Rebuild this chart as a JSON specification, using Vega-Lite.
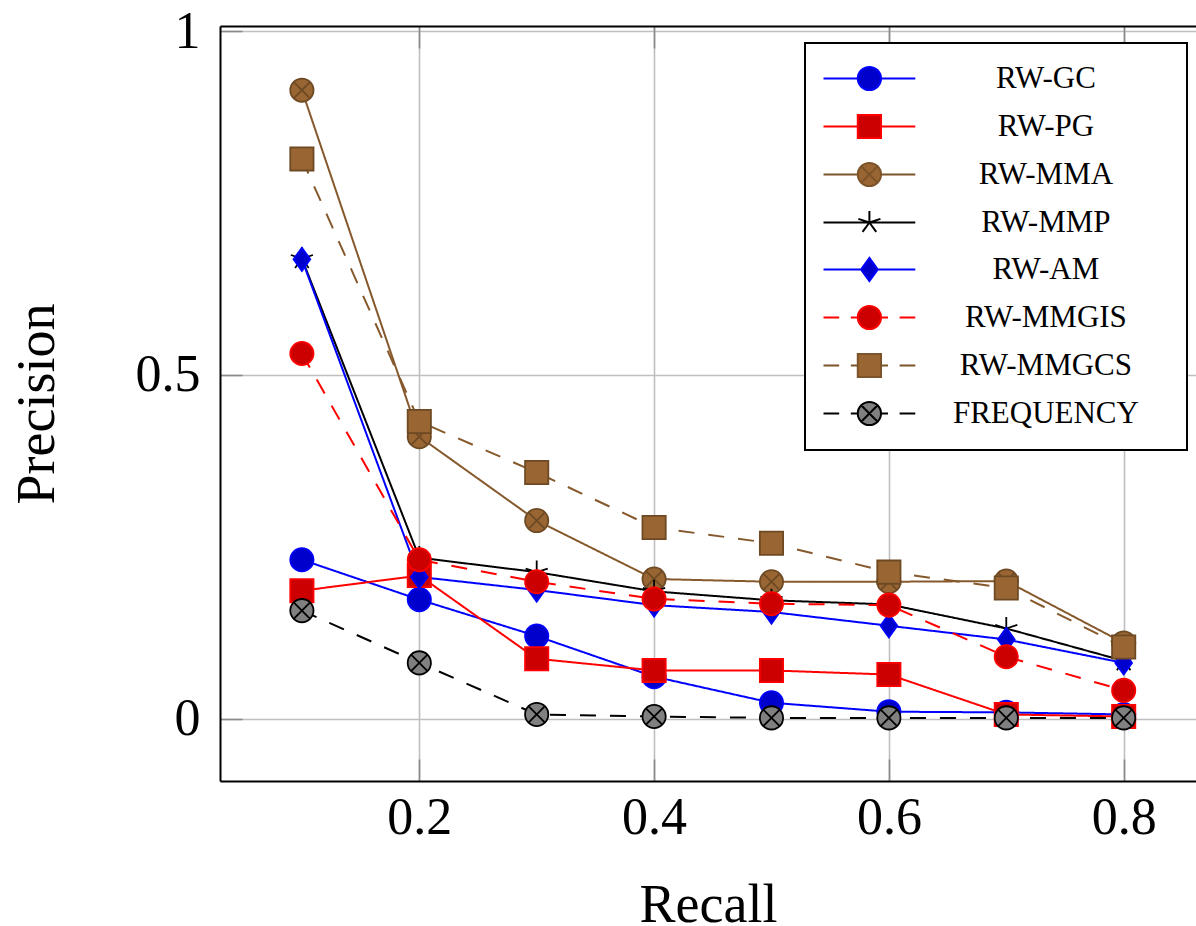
{
  "$schema": "https://vega.github.io/schema/vega-lite/v6.json",
  "width": 976,
  "height": 755,
  "autosize": {"type": "none"},
  "padding": {"left": 220, "top": 26, "right": 0, "bottom": 145},
  "background": "white",
  "config": {
    "view": {"stroke": null},
    "font": "Liberation Serif",
    "axis": {
      "labelFont": "Liberation Serif",
      "labelFontSize": 52,
      "labelColor": "black",
      "titleFont": "Liberation Serif",
      "titleFontSize": 54,
      "titleFontWeight": "normal",
      "titleColor": "black",
      "domainColor": "black",
      "domainWidth": 2,
      "gridColor": "#bfbfbf",
      "gridWidth": 1.6,
      "tickColor": "#8a8a8a",
      "tickWidth": 1.6,
      "tickSize": -22
    },
    "legend": {
      "orient": "none",
      "legendX": 585,
      "legendY": 17,
      "padding": 20,
      "strokeColor": "black",
      "strokeWidth": 2,
      "fillColor": "white",
      "cornerRadius": 0,
      "labelFont": "Liberation Serif",
      "labelFontSize": 31,
      "labelColor": "black",
      "labelAlign": "center",
      "labelOffset": 161,
      "labelLimit": 400,
      "symbolSize": 540,
      "symbolStrokeWidth": 2,
      "symbolOffset": 28.9,
      "symbolOpacity": 1,
      "rowPadding": 15
    }
  },
  "data": {
    "values": [
      {"m": "RW-GC", "Recall": 0.1, "Precision": 0.231},
      {"m": "RW-GC", "Recall": 0.2, "Precision": 0.173},
      {"m": "RW-GC", "Recall": 0.3, "Precision": 0.120},
      {"m": "RW-GC", "Recall": 0.4, "Precision": 0.061},
      {"m": "RW-GC", "Recall": 0.5, "Precision": 0.023},
      {"m": "RW-GC", "Recall": 0.6, "Precision": 0.010},
      {"m": "RW-GC", "Recall": 0.7, "Precision": 0.009},
      {"m": "RW-GC", "Recall": 0.8, "Precision": 0.006},
      {"m": "RW-PG", "Recall": 0.1, "Precision": 0.186},
      {"m": "RW-PG", "Recall": 0.2, "Precision": 0.208},
      {"m": "RW-PG", "Recall": 0.3, "Precision": 0.087},
      {"m": "RW-PG", "Recall": 0.4, "Precision": 0.070},
      {"m": "RW-PG", "Recall": 0.5, "Precision": 0.070},
      {"m": "RW-PG", "Recall": 0.6, "Precision": 0.064},
      {"m": "RW-PG", "Recall": 0.7, "Precision": 0.006},
      {"m": "RW-PG", "Recall": 0.8, "Precision": 0.003},
      {"m": "RW-MMA", "Recall": 0.1, "Precision": 0.914},
      {"m": "RW-MMA", "Recall": 0.2, "Precision": 0.410},
      {"m": "RW-MMA", "Recall": 0.3, "Precision": 0.288},
      {"m": "RW-MMA", "Recall": 0.4, "Precision": 0.203},
      {"m": "RW-MMA", "Recall": 0.5, "Precision": 0.199},
      {"m": "RW-MMA", "Recall": 0.6, "Precision": 0.199},
      {"m": "RW-MMA", "Recall": 0.7, "Precision": 0.200},
      {"m": "RW-MMA", "Recall": 0.8, "Precision": 0.110},
      {"m": "RW-MMP", "Recall": 0.1, "Precision": 0.669},
      {"m": "RW-MMP", "Recall": 0.2, "Precision": 0.234},
      {"m": "RW-MMP", "Recall": 0.3, "Precision": 0.213},
      {"m": "RW-MMP", "Recall": 0.4, "Precision": 0.185},
      {"m": "RW-MMP", "Recall": 0.5, "Precision": 0.172},
      {"m": "RW-MMP", "Recall": 0.6, "Precision": 0.166},
      {"m": "RW-MMP", "Recall": 0.7, "Precision": 0.131},
      {"m": "RW-MMP", "Recall": 0.8, "Precision": 0.084},
      {"m": "RW-AM", "Recall": 0.1, "Precision": 0.668},
      {"m": "RW-AM", "Recall": 0.2, "Precision": 0.206},
      {"m": "RW-AM", "Recall": 0.3, "Precision": 0.187},
      {"m": "RW-AM", "Recall": 0.4, "Precision": 0.165},
      {"m": "RW-AM", "Recall": 0.5, "Precision": 0.155},
      {"m": "RW-AM", "Recall": 0.6, "Precision": 0.135},
      {"m": "RW-AM", "Recall": 0.7, "Precision": 0.115},
      {"m": "RW-AM", "Recall": 0.8, "Precision": 0.081},
      {"m": "RW-MMGIS", "Recall": 0.1, "Precision": 0.531},
      {"m": "RW-MMGIS", "Recall": 0.2, "Precision": 0.231},
      {"m": "RW-MMGIS", "Recall": 0.3, "Precision": 0.199},
      {"m": "RW-MMGIS", "Recall": 0.4, "Precision": 0.174},
      {"m": "RW-MMGIS", "Recall": 0.5, "Precision": 0.167},
      {"m": "RW-MMGIS", "Recall": 0.6, "Precision": 0.165},
      {"m": "RW-MMGIS", "Recall": 0.7, "Precision": 0.090},
      {"m": "RW-MMGIS", "Recall": 0.8, "Precision": 0.041},
      {"m": "RW-MMGCS", "Recall": 0.1, "Precision": 0.814},
      {"m": "RW-MMGCS", "Recall": 0.2, "Precision": 0.432},
      {"m": "RW-MMGCS", "Recall": 0.3, "Precision": 0.358},
      {"m": "RW-MMGCS", "Recall": 0.4, "Precision": 0.278},
      {"m": "RW-MMGCS", "Recall": 0.5, "Precision": 0.255},
      {"m": "RW-MMGCS", "Recall": 0.6, "Precision": 0.213},
      {"m": "RW-MMGCS", "Recall": 0.7, "Precision": 0.190},
      {"m": "RW-MMGCS", "Recall": 0.8, "Precision": 0.104},
      {"m": "FREQUENCY", "Recall": 0.1, "Precision": 0.157},
      {"m": "FREQUENCY", "Recall": 0.2, "Precision": 0.081},
      {"m": "FREQUENCY", "Recall": 0.3, "Precision": 0.006},
      {"m": "FREQUENCY", "Recall": 0.4, "Precision": 0.003},
      {"m": "FREQUENCY", "Recall": 0.5, "Precision": 0.001},
      {"m": "FREQUENCY", "Recall": 0.6, "Precision": 0.001},
      {"m": "FREQUENCY", "Recall": 0.7, "Precision": 0.001},
      {"m": "FREQUENCY", "Recall": 0.8, "Precision": 0.001}
    ]
  },
  "resolve": {
    "scale": {"shape": "independent", "fill": "independent", "stroke": "independent"},
    "axis": {"x": "independent"}
  },
  "layer": [
    {
      "mark": {"type": "line", "strokeWidth": 2},
      "encoding": {
        "x": {
          "field": "Recall", "type": "quantitative",
          "scale": {"domain": [0.03024, 0.8616], "nice": false, "zero": false},
          "axis": {"orient": "bottom", "values": [0.2, 0.4, 0.6, 0.8], "format": "~g", "grid": true, "labelPadding": 33, "titlePadding": 35}
        },
        "y": {
          "field": "Precision", "type": "quantitative",
          "scale": {"domain": [-0.0908, 1.0073], "nice": false, "zero": false},
          "axis": {"values": [0, 0.5, 1], "format": "~g", "grid": true, "labelPadding": 42, "titlePadding": 71}
        },
        "color": {
          "field": "m", "type": "nominal", "legend": null,
          "scale": {
            "domain": ["RW-GC", "RW-PG", "RW-MMA", "RW-MMP", "RW-AM", "RW-MMGIS", "RW-MMGCS", "FREQUENCY"],
            "range": ["#0000ff", "#ff0000", "#86592d", "#000000", "#0000ff", "#ff0000", "#86592d", "#000000"]
          }
        },
        "strokeDash": {
          "field": "m", "type": "nominal", "legend": null,
          "scale": {
            "domain": ["RW-GC", "RW-PG", "RW-MMA", "RW-MMP", "RW-AM", "RW-MMGIS", "RW-MMGCS", "FREQUENCY"],
            "range": [[1, 0], [1, 0], [1, 0], [1, 0], [1, 0], [16, 14], [16, 14], [16, 14]]
          }
        }
      }
    },
    {
      "mark": {"type": "point", "filled": true, "opacity": 1, "size": 540, "strokeWidth": 1.8},
      "encoding": {
        "x": {
          "field": "Recall", "type": "quantitative",
          "axis": {"orient": "top", "labels": false, "grid": false, "title": null, "values": [0.2, 0.4, 0.6, 0.8], "domain": true}
        },
        "y": {"field": "Precision", "type": "quantitative"},
        "fill": {
          "field": "m", "type": "nominal", "legend": null,
          "scale": {
            "domain": ["RW-GC", "RW-PG", "RW-MMA", "RW-MMP", "RW-AM", "RW-MMGIS", "RW-MMGCS", "FREQUENCY"],
            "range": ["#0000cc", "#cc0000", "#996633", "#000000", "#0000cc", "#cc0000", "#996633", "#808080"]
          }
        },
        "stroke": {
          "field": "m", "type": "nominal", "legend": null,
          "scale": {
            "domain": ["RW-GC", "RW-PG", "RW-MMA", "RW-MMP", "RW-AM", "RW-MMGIS", "RW-MMGCS", "FREQUENCY"],
            "range": ["#0000ff", "#ff0000", "#6e4a24", "#000000", "#0000ff", "#ff0000", "#6e4a24", "#000000"]
          }
        },
        "shape": {
          "field": "m", "type": "nominal", "legend": null,
          "scale": {
            "domain": ["RW-GC", "RW-PG", "RW-MMA", "RW-MMP", "RW-AM", "RW-MMGIS", "RW-MMGCS", "FREQUENCY"],
            "range": [
              "M1,0A1,1,0,1,1,-1,0A1,1,0,1,1,1,0Z",
              "M-1,-1L1,-1L1,1L-1,1Z",
              "M1,0A1,1,0,1,1,-1,0A1,1,0,1,1,1,0ZM-0.707,-0.707L0.707,0.707M-0.707,0.707L0.707,-0.707",
              "M0,0L0,-1M0,0L-0.951,-0.309M0,0L-0.588,0.809M0,0L0.588,0.809M0,0L0.951,-0.309",
              "M0,-1L0.72,0L0,1L-0.72,0Z",
              "M1,0A1,1,0,1,1,-1,0A1,1,0,1,1,1,0Z",
              "M-1,-1L1,-1L1,1L-1,1Z",
              "M1,0A1,1,0,1,1,-1,0A1,1,0,1,1,1,0ZM-0.707,-0.707L0.707,0.707M-0.707,0.707L0.707,-0.707"
            ]
          }
        }
      }
    },
    {
      "transform": [{"filter": "datum.Recall < 0"}],
      "mark": {"type": "point", "filled": true, "opacity": 1, "size": 540, "strokeWidth": 2},
      "encoding": {
        "x": {"field": "Recall", "type": "quantitative", "axis": null},
        "y": {"field": "Precision", "type": "quantitative"},
        "fill": {
          "field": "m", "type": "nominal", "legend": {"title": null},
          "scale": {
            "domain": ["RW-GC", "RW-PG", "RW-MMA", "RW-MMP", "RW-AM", "RW-MMGIS", "RW-MMGCS", "FREQUENCY"],
            "range": ["#0000cc", "#cc0000", "#996633", "#000000", "#0000cc", "#cc0000", "#996633", "#808080"]
          }
        },
        "stroke": {
          "field": "m", "type": "nominal", "legend": {"title": null},
          "scale": {
            "domain": ["RW-GC", "RW-PG", "RW-MMA", "RW-MMP", "RW-AM", "RW-MMGIS", "RW-MMGCS", "FREQUENCY"],
            "range": ["#0000ff", "#ff0000", "#7d5329", "#000000", "#0000ff", "#ff0000", "#7d5329", "#000000"]
          }
        },
        "shape": {
          "field": "m", "type": "nominal", "legend": {"title": null},
          "scale": {
            "domain": ["RW-GC", "RW-PG", "RW-MMA", "RW-MMP", "RW-AM", "RW-MMGIS", "RW-MMGCS", "FREQUENCY"],
            "range": [
              "M-3.95,0L-1,0M1,0L3.95,0M1,0A1,1,0,1,1,-1,0A1,1,0,1,1,1,0ZM25.2,0L25.2,0",
              "M-3.95,0L-1,0M1,0L3.95,0M-1,-1L1,-1L1,1L-1,1ZM25.2,0L25.2,0",
              "M-3.95,0L-1,0M1,0L3.95,0M1,0A1,1,0,1,1,-1,0A1,1,0,1,1,1,0ZM-0.707,-0.707L0.707,0.707M-0.707,0.707L0.707,-0.707M25.2,0L25.2,0",
              "M-3.95,0L3.95,0M0,0L0,-1M0,0L-0.951,-0.309M0,0L-0.588,0.809M0,0L0.588,0.809M0,0L0.951,-0.309M25.2,0L25.2,0",
              "M-3.95,0L-0.72,0M0.72,0L3.95,0M0,-1L0.72,0L0,1L-0.72,0ZM25.2,0L25.2,0",
              "M-3.95,0L-2.6,0M-1.6,0L-1,0M1,0L1.6,0M2.6,0L3.95,0M1,0A1,1,0,1,1,-1,0A1,1,0,1,1,1,0ZM25.2,0L25.2,0",
              "M-3.95,0L-2.6,0M-1.6,0L-1,0M1,0L1.6,0M2.6,0L3.95,0M-1,-1L1,-1L1,1L-1,1ZM25.2,0L25.2,0",
              "M-3.95,0L-2.6,0M-1.6,0L-1,0M1,0L1.6,0M2.6,0L3.95,0M1,0A1,1,0,1,1,-1,0A1,1,0,1,1,1,0ZM-0.707,-0.707L0.707,0.707M-0.707,0.707L0.707,-0.707M25.2,0L25.2,0"
            ]
          }
        }
      }
    }
  ]
}
